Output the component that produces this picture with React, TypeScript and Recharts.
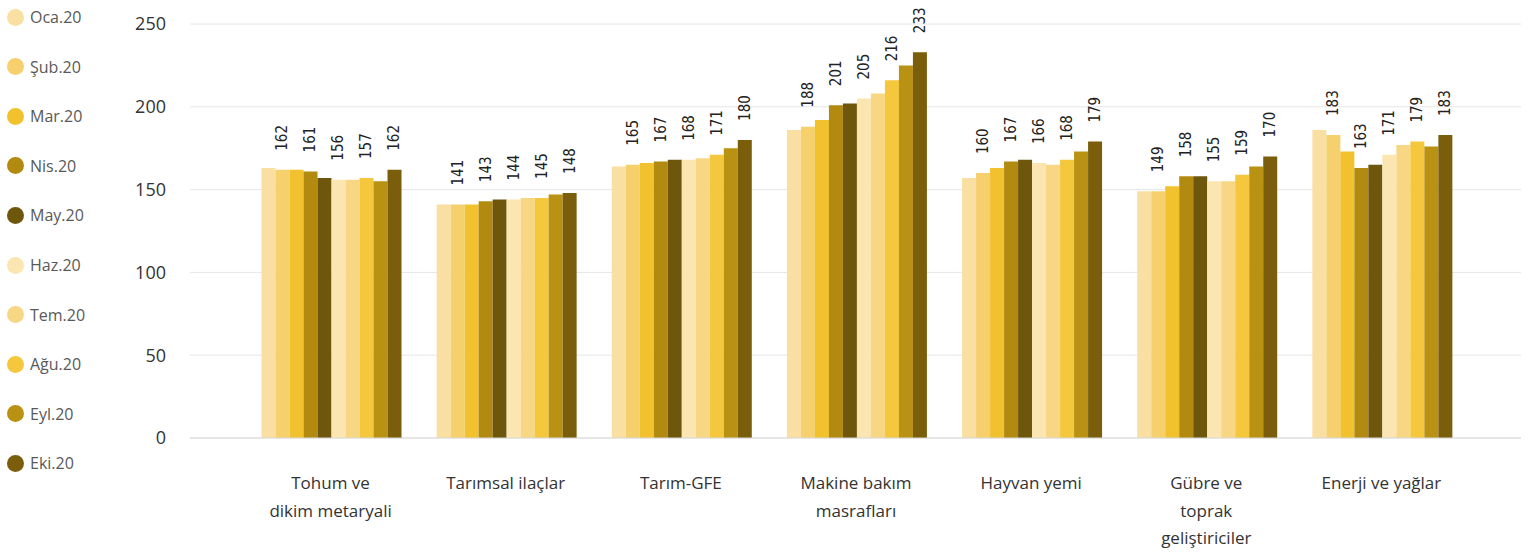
import React from "react";
import { BarChart, Bar, XAxis, YAxis, CartesianGrid, LabelList } from "recharts";

const categories = [
  "Tohum ve\ndikim metaryali",
  "Tarımsal ilaçlar",
  "Tarım-GFE",
  "Makine bakım\nmasrafları",
  "Hayvan yemi",
  "Gübre ve\ntoprak\ngeliştiriciler",
  "Enerji ve yağlar",
];

const seriesNames = ["Oca.20", "Şub.20", "Mar.20", "Nis.20", "May.20", "Haz.20", "Tem.20", "Ağu.20", "Eyl.20", "Eki.20"];
const seriesColors = ["#FADFA2", "#F6D06C", "#F2C12E", "#B38A10", "#6E560C", "#FBE5B0", "#F8D784", "#F4C73C", "#B99213", "#7A5E0B"];
const labeledSeries = ["Şub.20", "Nis.20", "Haz.20", "Ağu.20", "Eki.20"];

const oca = [163, 141, 164, 186, 157, 149, 186];
const sub = [162, 141, 165, 188, 160, 149, 183];
const mar = [162, 141, 166, 192, 163, 152, 173];
const nis = [161, 143, 167, 201, 167, 158, 163];
const may = [157, 144, 168, 202, 168, 158, 165];
const haz = [156, 144, 168, 205, 166, 155, 171];
const tem = [156, 145, 169, 208, 165, 155, 177];
const agu = [157, 145, 171, 216, 168, 159, 179];
const eyl = [155, 147, 175, 225, 173, 164, 176];
const eki = [162, 148, 180, 233, 179, 170, 183];

const yTicks = [0, 50, 100, 150, 200, 250];

const seriesValues = [oca, sub, mar, nis, may, haz, tem, agu, eyl, eki];

const data = categories.map((c, i) => {
  const row: Record<string, any> = { category: c };
  seriesNames.forEach((n, s) => {
    row[n] = seriesValues[s][i];
  });
  return row;
});

const FONT = "'Open Sans', 'Noto Sans', sans-serif";

const CategoryTick = (props: any) => {
  const { x, y, payload } = props;
  const lines = String(payload.value).split("\n");
  return (
    <g>
      {lines.map((l, i) => (
        <text
          key={i}
          x={x}
          y={y + 43 + i * 27.5}
          textAnchor="middle"
          fontSize={17}
          fontFamily={FONT}
          fill="#333"
        >
          {l}
        </text>
      ))}
    </g>
  );
};

const ValueLabel = (props: any) => {
  const { x, y, width, value } = props;
  const cx = x + width / 2;
  const ty = y - 19;
  return (
    <text
      x={cx}
      y={ty}
      transform={`rotate(-90, ${cx}, ${ty})`}
      textAnchor="start"
      dominantBaseline="central"
      fontSize={15}
      fontFamily="'DejaVu Sans Condensed', 'DejaVu Sans', sans-serif"
      fill="#222"
    >
      {value}
    </text>
  );
};

export default function App() {
  return (
    <div style={{ position: "absolute", left: 0, top: 0, width: 1528, height: 555, background: "#fff" }}>
      <div style={{ position: "absolute", left: 0, top: 0 }}>
        {seriesNames.map((n, i) => (
          <div
            key={n}
            style={{
              position: "absolute",
              left: 7,
              top: 17 + i * 49.6 - 11,
              height: 22,
              display: "flex",
              alignItems: "center",
              whiteSpace: "nowrap",
              fontFamily: FONT,
              fontSize: 16,
              color: "#595959",
            }}
          >
            <span
              style={{
                display: "inline-block",
                width: 17,
                height: 17,
                borderRadius: "50%",
                background: seriesColors[i],
                marginRight: 6,
              }}
            />
            {n}
          </div>
        ))}
      </div>
      <BarChart
        width={1528}
        height={555}
        data={data}
        margin={{ top: 24, right: 7, bottom: 0, left: 0 }}
        barCategoryGap={18.5}
        barGap={0}
      >
        <CartesianGrid vertical={false} stroke="#e6e6e6" />
        <XAxis
          dataKey="category"
          interval={0}
          height={117}
          padding={{ left: 53, right: 52 }}
          tickLine={false}
          axisLine={{ stroke: "#d9d9d9" }}
          tick={<CategoryTick />}
        />
        <YAxis
          domain={[0, 250]}
          ticks={yTicks}
          width={190}
          tickLine={false}
          axisLine={false}
          tickSize={6}
          tickMargin={18}
          tick={{ fontSize: 18, fontFamily: FONT, fill: "#333" }}
        />
        {seriesNames.map((n, i) => (
          <Bar key={n} dataKey={n} fill={seriesColors[i]} isAnimationActive={false}>
            {labeledSeries.includes(n) ? <LabelList dataKey={n} content={<ValueLabel />} /> : null}
          </Bar>
        ))}
      </BarChart>
    </div>
  );
}
